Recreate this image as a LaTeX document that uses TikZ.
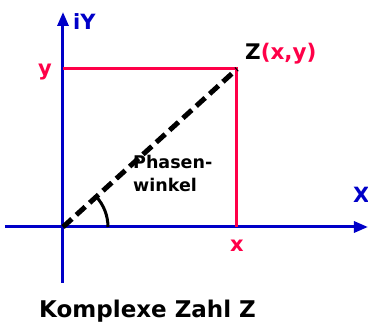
\documentclass[tikz,border=0pt]{standalone}
\usepackage{fontspec}
\setmainfont{DejaVu Sans}
\usetikzlibrary{arrows,arrows.meta}
\definecolor{achsblau}{RGB}{0,0,200}
\definecolor{zrot}{RGB}{255,0,72}

\tikzset{
  achse/.style={line width=3pt,color=achsblau,-{Triangle[length=14pt,width=11pt]}},
  hilfs/.style={line width=3pt,color=zrot},
  zeiger/.style={line width=5pt,dash pattern=on 12pt off 6pt},
  lbl/.style={font=\bfseries\fontsize{21}{21}\selectfont,inner sep=0pt}
}

\begin{document}
\begin{tikzpicture}[x=1pt,y=-1pt,line cap=butt,line join=miter]
\useasboundingbox (0,0) rectangle (368,326);
% Achsen
\coordinate (O) at (63,227);
\coordinate (xl) at (5,227);
\coordinate (xr) at (368,227);
\coordinate (yu) at (63,283);
\coordinate (yo) at (63,12);
\coordinate (Z) at (237,69);
\coordinate (Zy) at (63,69);
\coordinate (Zx) at (237,227);
\coordinate (wb) at (108,227);
\draw [achse] (xl) -- (xr);
\draw [achse] (yu) -- (yo);
% Hilfslinien
\draw [hilfs] (Zy) -- (Z) -- (Zx);
% Zeiger und Winkel
\draw [zeiger] (O) -- (Z);
\draw [line width=3pt] (wb) arc [start angle=0,end angle=-43,radius=45];
% Beschriftung
\node [lbl,color=achsblau,anchor=base west] (iy) at (73,30) {iY};
\node [lbl,color=achsblau,anchor=base west] (xa) at (353,203) {X};
\node [lbl,color=zrot,anchor=base] (ly) at (45,76) {y};
\node [lbl,color=zrot,anchor=base] (lx) at (237,252) {x};
\node [lbl,font=\bfseries\fontsize{21.5}{21.5}\selectfont,anchor=base west] (lz) at (245,60) {Z\textcolor{zrot}{(x,y)}};
\node [font=\bfseries\fontsize{17.5}{23}\selectfont,align=left,anchor=base west,inner sep=0pt] (pw) at (133,192) {Phasen-\\winkel};
\node [font=\bfseries\fontsize{23}{23}\selectfont,anchor=base west,inner sep=0pt] (titel) at (39,318) {Komplexe Zahl Z};
\end{tikzpicture}
\end{document}
